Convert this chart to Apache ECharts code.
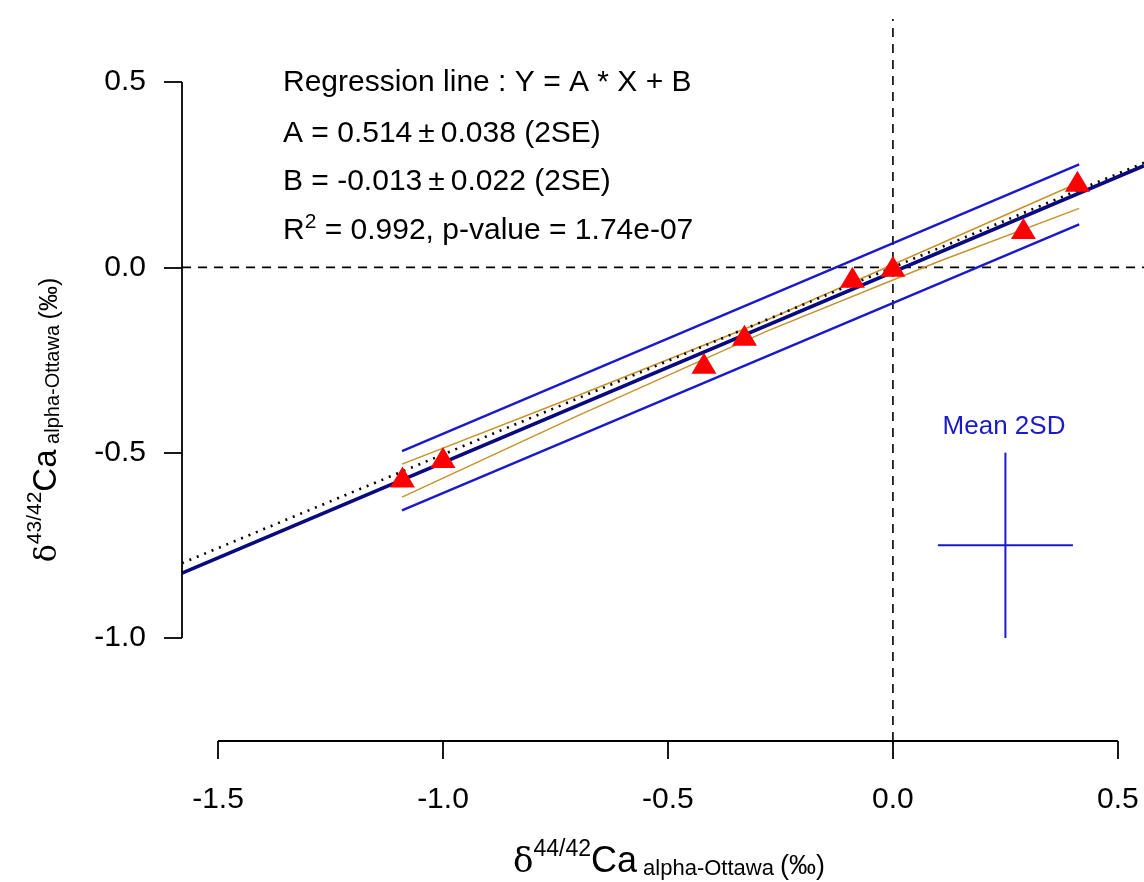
<!DOCTYPE html>
<html>
<head>
<meta charset="utf-8">
<script src="https://cdn.jsdelivr.net/npm/echarts@6/dist/echarts.min.js"></script>
<style>
  html, body { margin: 0; padding: 0; background: #fff; }
  #chart { width: 1144px; height: 882px; }
</style>
</head>
<body>
<div id="chart"></div>
<script>
// axis ranges and ticks
var xMin = -1.58, xMax = 0.558;
var yMin = -1.278, yMax = 0.670;
var xTicks = [-1.5, -1.0, -0.5, 0.0, 0.5];
var yTicks = [-1.0, -0.5, 0.0, 0.5];

// measured samples
var sampleX = [-1.09, -1.00, -0.42, -0.33, -0.09, 0.00, 0.29, 0.41];
var sampleY = [-0.566, -0.513, -0.259, -0.183, -0.027, 0.003, 0.105, 0.232];

// regression line and theoretical (dotted) line, read at plot edges
var regX = [-1.58, 0.558];
var regY = [-0.825, 0.274];
var dotX = [-1.58, 0.558];
var dotY = [-0.798, 0.282];

// prediction band (blue)
var predX = [-1.091, 0.414];
var predUpper = [-0.496, 0.278];
var predLower = [-0.656, 0.116];

// confidence band (tan)
var confX = [-1.091, -0.7, -0.28, 0.1, 0.414];
var confUpper = [-0.531, -0.346, -0.142, 0.061, 0.229];
var confLower = [-0.620, -0.400, -0.172, 0.015, 0.159];

// Mean 2SD cross
var sdCenter = [0.25, -0.75];
var sdHalf = [0.15, 0.25];

function pairs(xs, ys) {
  var out = [];
  for (var i = 0; i < xs.length; i++) out.push([xs[i], ys[i]]);
  return out;
}

function lineSeries(data, color, width, dash) {
  return {
    type: 'line',
    data: data,
    symbol: 'none',
    silent: true,
    clip: false,
    animation: false,
    lineStyle: { color: color, width: width, type: dash || 'solid', cap: 'butt' },
    z: 2
  };
}

var chart = echarts.init(document.getElementById('chart'));
var font = 'Liberation Sans, Arial, sans-serif';

var series = [
  lineSeries([[xMin, 0], [xMax, 0]], '#000', 1.6, [9, 7]),
  lineSeries([[0, yMin], [0, yMax]], '#000', 1.6, [9, 7]),
  lineSeries(pairs(predX, predUpper), '#1a1acc', 2.4),
  lineSeries(pairs(predX, predLower), '#1a1acc', 2.4),
  lineSeries(pairs(confX, confUpper), '#c8922a', 1.5),
  lineSeries(pairs(confX, confLower), '#c8922a', 1.5),
  lineSeries(pairs(regX, regY), '#0a0a80', 3.6),
  lineSeries(pairs(dotX, dotY), '#000', 2.6, [2, 6]),
  lineSeries([[sdCenter[0] - sdHalf[0], sdCenter[1]], [sdCenter[0] + sdHalf[0], sdCenter[1]]], '#1a1acc', 2),
  lineSeries([[sdCenter[0], sdCenter[1] - sdHalf[1]], [sdCenter[0], sdCenter[1] + sdHalf[1]]], '#1a1acc', 2),
  // axis spines, only across the tick range
  lineSeries([[xTicks[0], yMin], [xTicks[xTicks.length - 1], yMin]], '#000', 1.8),
  lineSeries([[xMin, yTicks[0]], [xMin, yTicks[yTicks.length - 1]]], '#000', 1.8),
  {
    type: 'scatter',
    data: pairs(sampleX, sampleY),
    symbol: 'triangle',
    symbolSize: [25, 21],
    itemStyle: { color: '#ff0000', opacity: 1 },
    silent: true,
    animation: false,
    z: 5
  }
];

var options = {
  animation: false,
  grid: { left: 182, right: 0, top: 19, bottom: 141 },
  xAxis: {
    type: 'value',
    min: xMin,
    max: xMax,
    axisLine: { show: false, onZero: false },
    splitLine: { show: false },
    axisTick: { show: true, length: 18, customValues: xTicks, lineStyle: { color: '#000', width: 1.8 } },
    axisLabel: {
      customValues: xTicks,
      margin: 44,
      color: '#000',
      fontSize: 30,
      fontFamily: font,
      formatter: function (v) { return v.toFixed(1); }
    }
  },
  yAxis: {
    type: 'value',
    min: yMin,
    max: yMax,
    axisLine: { show: false, onZero: false },
    splitLine: { show: false },
    axisTick: { show: true, length: 18, customValues: yTicks, lineStyle: { color: '#000', width: 1.8 } },
    axisLabel: {
      customValues: yTicks,
      margin: 36,
      color: '#000',
      fontSize: 30,
      fontFamily: font,
      formatter: function (v) { return v.toFixed(1); }
    }
  },
  graphic: [
    { type: 'text', left: 283, top: 68, style: { text: 'Regression line : Y = A * X + B', font: '30px ' + font, fill: '#000' } },
    { type: 'text', left: 283, top: 119, style: { text: 'A = 0.514\u2009\u00b1\u20090.038 (2SE)', font: '30px ' + font, fill: '#000' } },
    { type: 'text', left: 283, top: 167, style: { text: 'B = -0.013\u2009\u00b1\u20090.022 (2SE)', font: '30px ' + font, fill: '#000' } },
    {
      type: 'text', left: 283, top: 212,
      style: {
        text: '{a|R}{s|2}{a| = 0.992, p-value = 1.74e-07}',
        rich: {
          a: { fontSize: 30, fontFamily: font, fill: '#000', lineHeight: 34, verticalAlign: 'bottom' },
          s: { fontSize: 21, fontFamily: font, fill: '#000', lineHeight: 22, verticalAlign: 'top' }
        }
      }
    },
    { type: 'text', x: 1004, y: 427, style: { text: 'Mean 2SD', font: '26px ' + font, fill: '#1a1acc', align: 'center', verticalAlign: 'middle' } },
    {
      type: 'text', x: 669, y: 859,
      style: {
        text: '{d|\u03b4}{p|44/42}{c|Ca}{b| alpha-Ottawa }{u|(\u2030)}',
        align: 'center', verticalAlign: 'middle',
        rich: {
          d: { fontSize: 34, fontFamily: 'DejaVu Serif, serif', fill: '#000', lineHeight: 40, verticalAlign: 'bottom' },
          p: { fontSize: 23, fontFamily: font, fill: '#000', lineHeight: 22, verticalAlign: 'top' },
          c: { fontSize: 36, fontFamily: font, fill: '#000', lineHeight: 42, verticalAlign: 'bottom' },
          b: { fontSize: 22, fontFamily: font, fill: '#000', lineHeight: 14, verticalAlign: 'bottom' },
          u: { fontSize: 27, fontFamily: font, fill: '#000', lineHeight: 36, verticalAlign: 'bottom' }
        }
      }
    },
    {
      type: 'text', x: 44, y: 420, rotation: Math.PI / 2,
      style: {
        text: '{d|\u03b4}{p|43/42}{c|Ca}{b| alpha-Ottawa }{u|(\u2030)}',
        align: 'center', verticalAlign: 'middle',
        rich: {
          d: { fontSize: 30, fontFamily: 'DejaVu Serif, serif', fill: '#000', lineHeight: 36, verticalAlign: 'bottom' },
          p: { fontSize: 21, fontFamily: font, fill: '#000', lineHeight: 21, verticalAlign: 'top' },
          c: { fontSize: 33, fontFamily: font, fill: '#000', lineHeight: 38, verticalAlign: 'bottom' },
          b: { fontSize: 20, fontFamily: font, fill: '#000', lineHeight: 13, verticalAlign: 'bottom' },
          u: { fontSize: 25, fontFamily: font, fill: '#000', lineHeight: 32, verticalAlign: 'bottom' }
        }
      }
    }
  ],
  series: series
};

chart.setOption(options, true);
window.addEventListener('resize', function () {
  chart.resize();
});
</script>
</body>
</html>
